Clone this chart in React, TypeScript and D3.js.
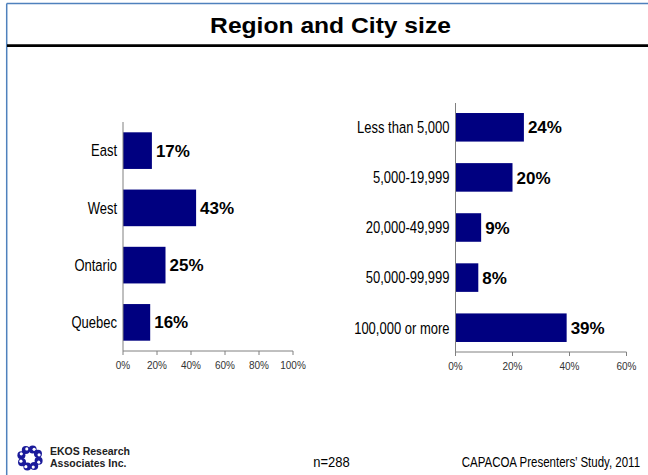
import React from "react";
import * as d3 from "d3";

const titleText = "Region and City size";
const regions = ["East", "West", "Ontario", "Quebec"];
const regionValues = [17, 43, 25, 16];
const regionTicks = [0, 20, 40, 60, 80, 100];
const citySizes = ["Less than 5,000", "5,000-19,999", "20,000-49,999", "50,000-99,999", "100,000 or more"];
const cityValues = [24, 20, 9, 8, 39];
const cityTicks = [0, 20, 40, 60];
const sampleNote = "n=288";
const sourceNote = "CAPACOA Presenters\u2019 Study, 2011";
const logoLines = ["EKOS Research", "Associates Inc."];

const FONT = "'Liberation Sans', Arial, Helvetica, sans-serif";
const NAVY = "#000080";
const AXIS = "#808080";

type PanelProps = {
  cats: string[];
  vals: number[];
  ticks: number[];
  xMax: number;
  x0: number;
  x1: number;
  y0: number;
  y1: number;
  padIn: number;
  padOut: number;
};

function Panel({ cats, vals, ticks, xMax, x0, x1, y0, y1, padIn, padOut }: PanelProps) {
  const x = d3.scaleLinear().domain([0, xMax]).range([x0, x1]);
  const y = d3.scaleBand<string>().domain(cats).range([y0, y1]).paddingInner(padIn).paddingOuter(padOut);
  return (
    <g>
      {cats.map((c, i) => {
        const cy = (y(c) as number) + y.bandwidth() / 2;
        return (
          <g key={c}>
            <rect x={x(0)} y={y(c)} width={x(vals[i]) - x(0)} height={y.bandwidth()} fill={NAVY} />
            <g transform={`translate(${x0 - 6},${cy}) scale(1,1.28)`}>
              <text x={0} y={0} dy="0.35em" textAnchor="end" fontSize={13} fontFamily={FONT} fill="#000">
                {c}
              </text>
            </g>
            <text
              x={x(vals[i]) + 4}
              y={cy}
              dy="0.36em"
              fontSize={17}
              fontWeight="bold"
              fontFamily={FONT}
              fill="#000"
            >
              {vals[i]}%
            </text>
          </g>
        );
      })}
      <line x1={x0} x2={x0} y1={y0} y2={y1} stroke={AXIS} strokeWidth={1} />
      <line x1={x0} x2={x1} y1={y1} y2={y1} stroke={AXIS} strokeWidth={1} />
      {ticks.map((t) => (
        <g key={t}>
          <line x1={x(t)} x2={x(t)} y1={y1} y2={y1 + 4} stroke={AXIS} strokeWidth={1} />
          <text x={x(t)} y={y1 + 18} textAnchor="middle" fontSize={10} fontFamily={FONT} fill="#333">
            {t}%
          </text>
        </g>
      ))}
    </g>
  );
}

function Logo({ cx, cy }: { cx: number; cy: number }) {
  const n = 8;
  const blobs = d3.range(n).map((i) => {
    const a = (i / n) * Math.PI * 2 + 0.3;
    return { x: cx + Math.cos(a) * 9, y: cy + Math.sin(a) * 9, a };
  });
  return (
    <g>
      {blobs.map((b, i) => (
        <g key={i}>
          <circle cx={b.x} cy={b.y} r={4} fill="#1a1a9a" />
          <circle cx={b.x + Math.cos(b.a + 1.2) * 1.5} cy={b.y + Math.sin(b.a + 1.2) * 1.5} r={1.6} fill="#fff" />
        </g>
      ))}
    </g>
  );
}

export default function App() {
  return (
    <svg
      width={648}
      height={475}
      style={{ position: "absolute", left: 0, top: 0, display: "block", background: "#fff" }}
    >
      <rect x={0} y={0} width={648} height={475} fill="#fff" />
      <line x1={6.7} x2={648} y1={3.5} y2={3.5} stroke="#4F81BD" strokeWidth={1.5} />
      <line x1={6.7} x2={6.7} y1={3.5} y2={475} stroke="#4F81BD" strokeWidth={1.5} />
      <g transform="translate(330.5,33) scale(1.12,1)">
        <text x={0} y={0} textAnchor="middle" fontSize={22} fontWeight="bold" fontFamily={FONT} fill="#000">
          {titleText}
        </text>
      </g>
      <line x1={7} x2={648} y1={45.6} y2={45.6} stroke="#000" strokeWidth={2.6} />

      <Panel
        cats={regions}
        vals={regionValues}
        ticks={regionTicks}
        xMax={100}
        x0={123}
        x1={293}
        y0={122}
        y1={351}
        padIn={0.36}
        padOut={0.18}
      />
      <Panel
        cats={citySizes}
        vals={cityValues}
        ticks={cityTicks}
        xMax={60}
        x0={455.5}
        x1={626.5}
        y0={103}
        y1={352}
        padIn={0.43}
        padOut={0.2}
      />

      <Logo cx={30} cy={458} />
      {logoLines.map((l, i) => (
        <text key={l} x={50} y={455 + i * 12} fontSize={10.5} fontWeight="bold" fontFamily={FONT} fill="#222">
          {l}
        </text>
      ))}
      <g transform="translate(313.3,466.5) scale(1,1.1)">
        <text x={0} y={0} fontSize={13} fontFamily={FONT} fill="#000">
          {sampleNote}
        </text>
      </g>
      <g transform="translate(461.7,466.5) scale(1,1.2)">
        <text x={0} y={0} fontSize={11.5} fontFamily={FONT} fill="#000">
          {sourceNote}
        </text>
      </g>
    </svg>
  );
}
